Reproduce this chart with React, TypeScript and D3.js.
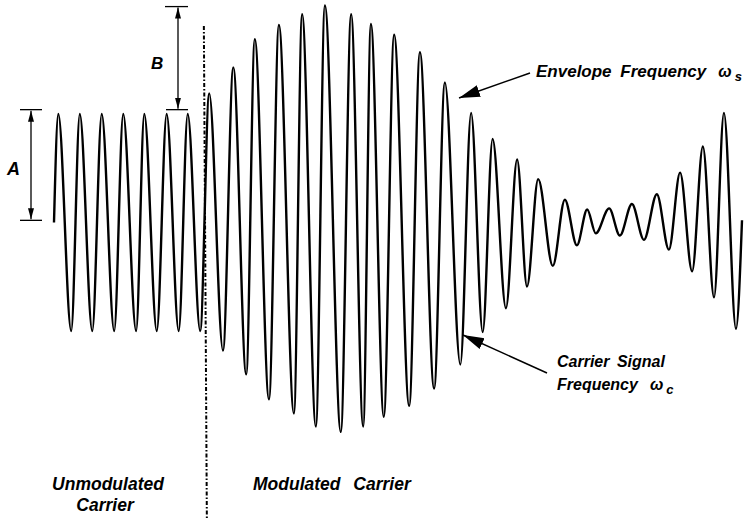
import React from "react";
import * as d3 from "d3";

// Time (ms) and normalised amplitude (unmodulated amplitude A = 1) of the successive extrema
const unmodTimes = [0, 0.10, 0.40, 0.60, 0.89, 1.11, 1.40, 1.61, 1.91, 2.10, 2.39, 2.62, 2.90, 3.11, 3.40];
const unmodValues = [0, 1, -1, 1, -1, 1, -1, 1, -1, 1, -1, 1, -1, 1, -1];

const modTimes = [
  3.61, 3.93, 4.17, 4.47, 4.67, 5.00, 5.23, 5.58, 5.77, 6.09, 6.30, 6.67, 6.91, 7.19, 7.37, 7.67,
  7.91, 8.26, 8.51, 8.84, 9.09, 9.45, 9.70, 9.97, 10.20, 10.51, 10.77, 11.00, 11.26, 11.60, 11.88,
  12.16, 12.40, 12.60, 12.91, 13.16, 13.44, 13.72, 14.02, 14.30, 14.56, 14.84, 15.09, 15.35, 15.58,
  15.86, 16.0,
];
const modValues = [
  1.19, -1.18, 1.43, -1.40, 1.69, -1.63, 1.82, -1.76, 1.92, -1.88, 2.0, -1.93, 1.92, -1.88, 1.83, -1.79,
  1.73, -1.69, 1.57, -1.53, 1.29, -1.31, 1.01, -1.01, 0.77, -0.79, 0.58, -0.59, 0.40, -0.40, 0.21,
  -0.21, 0.12, -0.10, 0.13, -0.12, 0.17, -0.16, 0.26, -0.25, 0.46, -0.45, 0.70, -0.69, 1.01,
  -0.98, 0.02,
];

// annotation levels (amplitude units) and divider time
const levelCenter = 0.02;
const levelA = 1.04;
const levelB = 1.99;
const dividerTime = 3.52;

const regionLabels = ["Unmodulated", "Carrier", "Modulated Carrier"];
const envelopeLabel = "Envelope Frequency";
const carrierLabel1 = "Carrier Signal";
const carrierLabel2 = "Frequency";

const W = 746;
const H = 519;

export default function App() {
  const x = d3.scaleLinear().domain([0, 16]).range([54, 742]);
  const y = d3.scaleLinear().domain([-1, 1]).range([331, 114]);

  const pts: [number, number][] = [];
  unmodTimes.forEach((t, i) => pts.push([t, unmodValues[i]]));
  modTimes.forEach((t, i) => pts.push([t, modValues[i]]));

  const line = d3
    .line<[number, number]>()
    .x((d) => x(d[0]))
    .y((d) => y(d[1]))
    .curve(d3.curveMonotoneX);

  const font = "'Liberation Sans', Arial, Helvetica, sans-serif";
  const txt = {
    fontFamily: font,
    fontStyle: "italic" as const,
    fontWeight: 700,
    fontSize: 16,
    fill: "#000",
  };

  const yA0 = y(levelCenter);
  const yA1 = y(levelA);
  const yB1 = y(levelB);
  const xd = x(dividerTime);

  return (
    <div style={{ position: "absolute", left: 0, top: 0, width: W, height: H, background: "#fff" }}>
      <svg width={W} height={H} viewBox={`0 0 ${W} ${H}`}>
        <defs>
          <marker id="sm" markerUnits="userSpaceOnUse" markerWidth={12} markerHeight={8} refX={11} refY={4} orient="auto-start-reverse">
            <path d="M0,1 L11,4 L0,7 Z" fill="#000" />
          </marker>
          <marker id="big" markerUnits="userSpaceOnUse" markerWidth={22} markerHeight={14} refX={21} refY={7} orient="auto">
            <path d="M0,1 L21,7 L0,13 Z" fill="#000" />
          </marker>
        </defs>

        {/* divider */}
        <line x1={xd - 1.5} y1={26} x2={xd + 1.5} y2={H} stroke="#000" strokeWidth={2} strokeDasharray="4 2 1.5 2" />

        {/* signal */}
        <path d={line(pts) || ""} fill="none" stroke="#000" strokeWidth={2.4} strokeLinejoin="round" />

        {/* A bracket */}
        <line x1={20} x2={42} y1={yA1} y2={yA1} stroke="#000" strokeWidth={1.3} />
        <line x1={20} x2={42} y1={yA0} y2={yA0} stroke="#000" strokeWidth={1.3} />
        <line x1={31} x2={31} y1={yA1 + 1} y2={yA0 - 1} stroke="#000" strokeWidth={1.3} markerStart="url(#sm)" markerEnd="url(#sm)" />
        <text x={7} y={175} style={{ ...txt, fontSize: 18 }}>A</text>

        {/* B bracket */}
        <line x1={165} x2={188} y1={yB1} y2={yB1} stroke="#000" strokeWidth={1.3} />
        <line x1={166} x2={188} y1={yA1} y2={yA1} stroke="#000" strokeWidth={1.3} />
        <line x1={178} x2={178} y1={yB1 + 1} y2={yA1 - 1} stroke="#000" strokeWidth={1.3} markerStart="url(#sm)" markerEnd="url(#sm)" />
        <text x={151} y={69} style={{ ...txt, fontSize: 17 }}>B</text>

        {/* envelope annotation */}
        <line x1={530} y1={73} x2={459} y2={98} stroke="#000" strokeWidth={1.5} markerEnd="url(#big)" />
        <text x={536} y={77} style={{ ...txt, fontSize: 17 }} wordSpacing={4}>
          {envelopeLabel}
          <tspan dx={12} fontSize={16}>ω</tspan>
          <tspan dx={3} dy={4} fontSize={13}>s</tspan>
        </text>

        {/* carrier annotation */}
        <line x1={547} y1={373} x2={463} y2={335} stroke="#000" strokeWidth={1.5} markerEnd="url(#big)" />
        <text x={557} y={367} style={txt} wordSpacing={3}>{carrierLabel1}</text>
        <text x={557} y={390} style={txt}>
          {carrierLabel2}
          <tspan dx={12} fontSize={16}>ω</tspan>
          <tspan dx={3} dy={4} fontSize={13}>c</tspan>
        </text>

        {/* region labels */}
        <text x={108} y={490} textAnchor="middle" style={{ ...txt, fontSize: 17.5 }}>{regionLabels[0]}</text>
        <text x={105} y={511} textAnchor="middle" style={{ ...txt, fontSize: 17.5 }}>{regionLabels[1]}</text>
        <text x={253} y={490} style={{ ...txt, fontSize: 17.5 }} wordSpacing={8}>{regionLabels[2]}</text>
      </svg>
    </div>
  );
}
